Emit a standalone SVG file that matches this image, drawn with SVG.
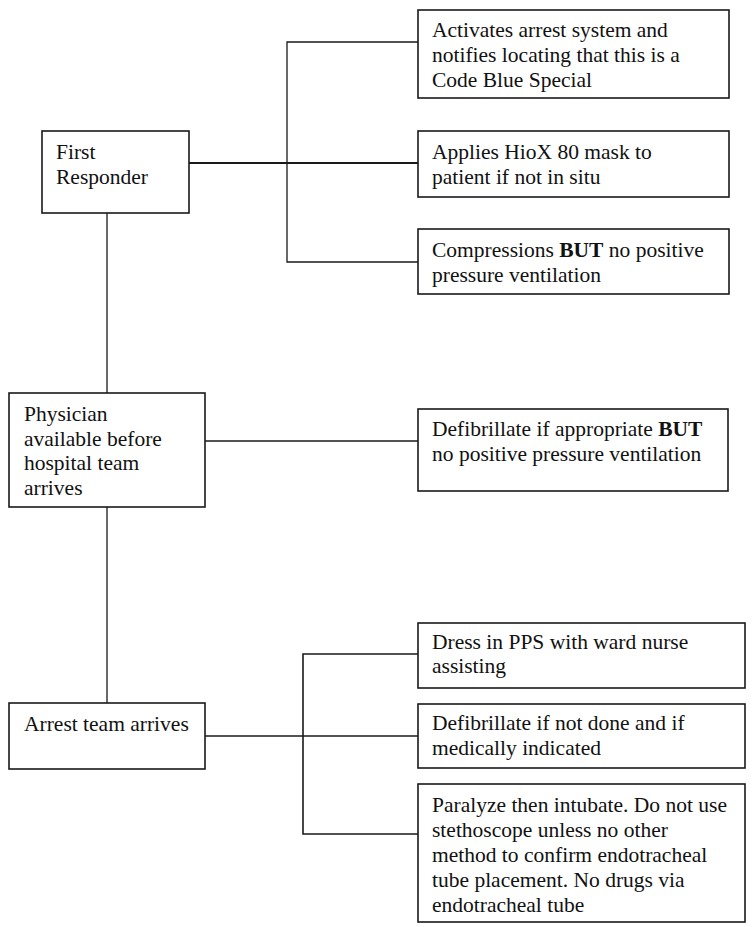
<svg xmlns="http://www.w3.org/2000/svg" width="753" height="927" viewBox="0 0 753 927">
<style>
.box{fill:#fff;stroke:#1a1a1a;stroke-width:1.6}
.ln{stroke:#1a1a1a;stroke-width:1.3;fill:none}
.thick{stroke:#1a1a1a;stroke-width:2.2;fill:none}
text{font-family:"Liberation Serif","Times New Roman",serif;font-size:21.5px;fill:#111}
.b{font-weight:bold}
</style>
<rect width="753" height="927" fill="#fff"/>
<g id="connectors">
<line class="thick" x1="189" y1="163" x2="418" y2="163"/>
<polyline class="ln" points="418,42 287,42 287,262 418,262"/>
<line class="ln" x1="107" y1="213" x2="107" y2="393"/>
<line class="ln" x1="205" y1="441" x2="418" y2="441"/>
<line class="ln" x1="107" y1="507" x2="107" y2="703"/>
<line class="ln" x1="205" y1="736" x2="418" y2="736"/>
<polyline class="thick" points="418,654 303,654 303,834 418,834" style="stroke-width:1.6"/>
</g>
<g id="first-responder">
<rect class="box" x="42" y="131" width="147" height="82"/>
<text x="56" y="159">First</text>
<text x="56" y="184">Responder</text>
</g>
<g id="activates">
<rect class="box" x="418" y="10" width="311" height="88"/>
<text x="432" y="37">Activates arrest system and</text>
<text x="432" y="62">notifies locating that this is a</text>
<text x="432" y="87">Code Blue Special</text>
</g>
<g id="applies">
<rect class="box" x="418" y="131" width="311" height="66"/>
<text x="432" y="159">Applies HioX 80 mask to</text>
<text x="432" y="184">patient if not in situ</text>
</g>
<g id="compressions">
<rect class="box" x="418" y="229" width="311" height="65"/>
<text x="432" y="257">Compressions <tspan class="b">BUT</tspan> no positive</text>
<text x="432" y="282">pressure ventilation</text>
</g>
<g id="physician">
<rect class="box" x="9" y="393" width="196" height="114"/>
<text x="24" y="421">Physician</text>
<text x="24" y="445.5">available before</text>
<text x="24" y="470">hospital team</text>
<text x="24" y="494.5">arrives</text>
</g>
<g id="defibrillate-appropriate">
<rect class="box" x="418" y="409" width="310" height="82"/>
<text x="432" y="436">Defibrillate if appropriate <tspan class="b">BUT</tspan></text>
<text x="432" y="461">no positive pressure ventilation</text>
</g>
<g id="arrest-team">
<rect class="box" x="9" y="703" width="196" height="66"/>
<text x="24" y="731">Arrest team arrives</text>
</g>
<g id="dress">
<rect class="box" x="418" y="623" width="327" height="65"/>
<text x="432" y="649">Dress in PPS with ward nurse</text>
<text x="432" y="673">assisting</text>
</g>
<g id="defibrillate-not-done">
<rect class="box" x="418" y="704" width="327" height="64"/>
<text x="432" y="730">Defibrillate if not done and if</text>
<text x="432" y="755">medically indicated</text>
</g>
<g id="paralyze">
<rect class="box" x="418" y="784" width="327" height="138"/>
<text x="432" y="812">Paralyze then intubate. Do not use</text>
<text x="432" y="837">stethoscope unless no other</text>
<text x="432" y="862">method to confirm endotracheal</text>
<text x="432" y="887">tube placement. No drugs via</text>
<text x="432" y="912">endotracheal tube</text>
</g>
</svg>
